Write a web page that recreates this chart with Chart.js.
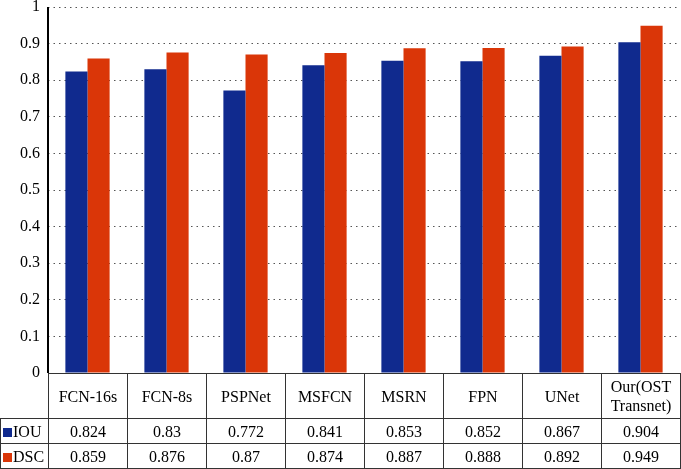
<!DOCTYPE html>
<html>
<head>
<meta charset="utf-8">
<script src="https://cdn.jsdelivr.net/npm/chart.js@4.4.0/dist/chart.umd.min.js"></script>
<style>
  body { margin: 0; background: #fff; }
  #wrap { position: relative; width: 681px; height: 469px; }
  #dataTable {
    position: absolute; left: 0; border-collapse: collapse; table-layout: fixed;
    font-family: "Liberation Serif", "DejaVu Serif", serif; font-size: 16px; color: #000;
  }
  #dataTable td { border: 1px solid #333; text-align: center; padding: 0; line-height: 19px; }
  #dataTable td.blank { border: none; }
  #dataTable td.lab { text-align: left; padding-left: 2px; white-space: nowrap; }
  .sw { display: inline-block; width: 9px; height: 9px; margin-right: 1px; vertical-align: 0px; }
</style>
</head>
<body>
<div id="wrap">
  <canvas id="chart" width="681" height="469"></canvas>
  <table id="dataTable"></table>
</div>
<script>
// categories and values
var categories = ["FCN-16s", "FCN-8s", "PSPNet", "MSFCN", "MSRN", "FPN", "UNet", ["Our(OST", "Transnet)"]];
var iouValues = [0.824, 0.83, 0.772, 0.841, 0.853, 0.852, 0.867, 0.904];
var dscValues = [0.859, 0.876, 0.87, 0.874, 0.887, 0.888, 0.892, 0.949];
var seriesNames = ["IOU", "DSC"];
var yTicks = [0, 0.1, 0.2, 0.3, 0.4, 0.5, 0.6, 0.7, 0.8, 0.9, 1];

var blue = "#102a8e";
var red = "#da3608";

// solid y axis line (the border option would be dotted like the grid)
var axisLine = {
  id: "axisLine",
  afterDraw: function (chart) {
    var a = chart.chartArea, c = chart.ctx;
    c.save();
    c.fillStyle = "#000";
    c.fillRect(Math.round(a.left) - 1, a.top, 2, a.bottom - a.top);
    c.restore();
  }
};

var ctx = document.getElementById("chart").getContext("2d");
var chart = new Chart(ctx, {
  type: "bar",
  plugins: [axisLine],
  data: {
    labels: categories,
    datasets: [
      { label: seriesNames[0], data: iouValues, backgroundColor: blue, borderWidth: 0 },
      { label: seriesNames[1], data: dscValues, backgroundColor: red, borderWidth: 0 }
    ]
  },
  options: {
    responsive: false,
    animation: false,
    layout: { padding: { top: 0, right: 1, bottom: 96, left: 0 } },
    categoryPercentage: 0.56,
    barPercentage: 1.0,
    plugins: { legend: { display: false }, tooltip: { enabled: false } },
    scales: {
      x: { display: false, grid: { display: false } },
      y: {
        min: 0, max: 1,
        afterFit: function (scale) {
          scale.width = 48;
          scale.paddingTop = 7;
          scale.paddingBottom = 0;
        },
        afterBuildTicks: function (scale) {
          scale.ticks = yTicks.map(function (v) { return { value: v }; });
        },
        ticks: {
          padding: 8,
          color: "#000",
          font: { family: "Liberation Serif", size: 16 },
          callback: function (v) { return String(v); }
        },
        grid: {
          drawTicks: false,
          color: function (c) { return c.tick.value === 0 ? "rgba(0,0,0,0)" : "#555"; },
          lineWidth: 1
        },
        border: { display: false, dash: [1.5, 4] }
      }
    }
  }
});

// build the data table under the plot, aligned with the category columns
function buildTable() {
  var area = chart.chartArea;
  var colW = (area.right - area.left) / categories.length;
  var table = document.getElementById("dataTable");
  table.style.top = area.bottom + "px";
  table.style.width = area.right + "px";

  var html = "<colgroup><col style='width:" + area.left + "px'>";
  for (var i = 0; i < categories.length; i++) html += "<col style='width:" + colW + "px'>";
  html += "</colgroup>";

  html += "<tr style='height:45px'><td class='blank'></td>";
  categories.forEach(function (c) {
    html += "<td>" + (Array.isArray(c) ? c.join("<br>") : c) + "</td>";
  });
  html += "</tr>";

  [[iouValues, blue], [dscValues, red]].forEach(function (row, r) {
    html += "<tr style='height:25px'><td class='lab'><span class='sw' style='background:" + row[1] + "'></span>" + seriesNames[r] + "</td>";
    row[0].forEach(function (v) { html += "<td>" + v + "</td>"; });
    html += "</tr>";
  });
  table.innerHTML = html;
}
buildTable();
</script>
</body>
</html>
